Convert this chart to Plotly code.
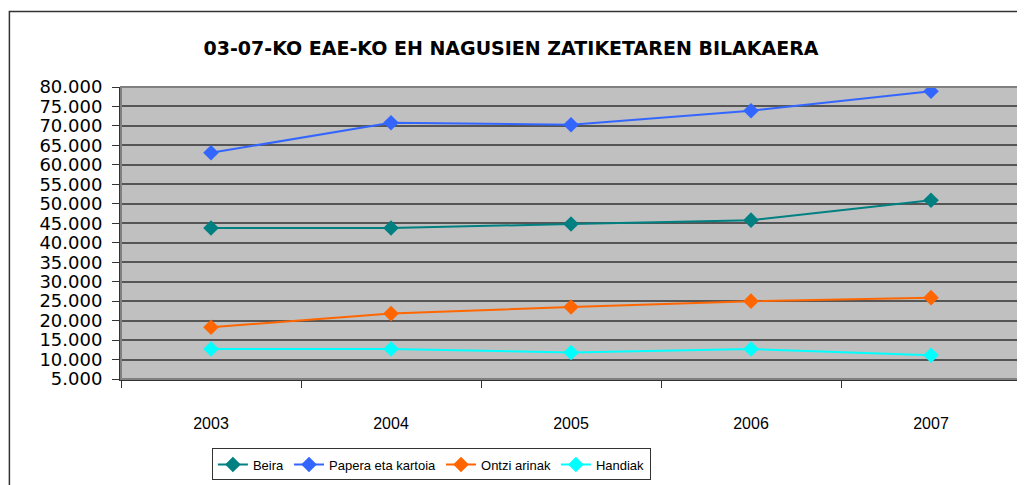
import plotly.graph_objects as go

years = ["2003", "2004", "2005", "2006", "2007"]
beira = [43800, 43800, 44800, 45800, 50900]
papera = [63100, 70800, 70300, 73900, 78900]
ontzi = [18300, 21800, 23500, 25000, 25900]
handiak = [12700, 12700, 11800, 12700, 11100]

series = [
    ("Beira", beira, "#008080"),
    ("Papera eta kartoia", papera, "#3366FF"),
    ("Ontzi arinak", ontzi, "#FF6600"),
    ("Handiak", handiak, "#00FFFF"),
]

fig = go.Figure()
for name, vals, col in series:
    fig.add_trace(go.Scatter(
        x=years, y=vals, name=name, mode="lines+markers",
        line=dict(color=col, width=2),
        marker=dict(symbol="diamond", size=12, color=col),
    ))

# outer chart frame
fig.add_shape(type="rect", xref="paper", yref="paper",
              x0=-0.124, x1=1.02, y0=-0.6, y1=1.2585,
              line=dict(color="#333333", width=1.5), layer="below")
# plot area frame
fig.add_shape(type="rect", xref="paper", yref="paper",
              x0=0, x1=1, y0=0, y1=1,
              line=dict(color="#808080", width=2), layer="above")

fig.update_xaxes(
    type="category", range=[-0.5, 4.5], automargin=False,
    showgrid=False, zeroline=False,
    ticks="outside", tickson="boundaries", ticklen=7, tickcolor="#333333",
    showline=True, linecolor="#333333", linewidth=2,
    ticklabelstandoff=29,
    tickfont=dict(family="Liberation Sans, Arial", size=16, color="black"),
)
fig.update_yaxes(
    range=[5000, 80000], dtick=5000, tick0=5000, tickformat=",.0f",
    automargin=False,
    showgrid=True, gridcolor="#555555", gridwidth=2, zeroline=False,
    ticks="outside", ticklen=7, tickcolor="#333333",
    showline=True, linecolor="#333333", linewidth=2,
    ticklabelstandoff=6,
    tickfont=dict(family="DejaVu Sans", size=18, color="black"),
)

fig.update_layout(
    width=1017, height=477,
    separators=",.",
    title=dict(text="<b>03-07-KO EAE-KO EH NAGUSIEN ZATIKETAREN BILAKAERA</b>",
               x=0.4946, xanchor="center", y=0.916, yanchor="middle",
               font=dict(family="DejaVu Sans", size=19, color="black")),
    plot_bgcolor="#C0C0C0", paper_bgcolor="white",
    margin=dict(l=113, r=4, t=79, b=96),
    showlegend=True,
    legend=dict(orientation="h", x=0.101, y=-0.238, xanchor="left", yanchor="top",
                bordercolor="#333333", borderwidth=1, bgcolor="white",
                font=dict(family="Liberation Sans, Arial", size=13, color="black"),
                itemwidth=30, tracegroupgap=0),
)

fig.write_html("out.html")
